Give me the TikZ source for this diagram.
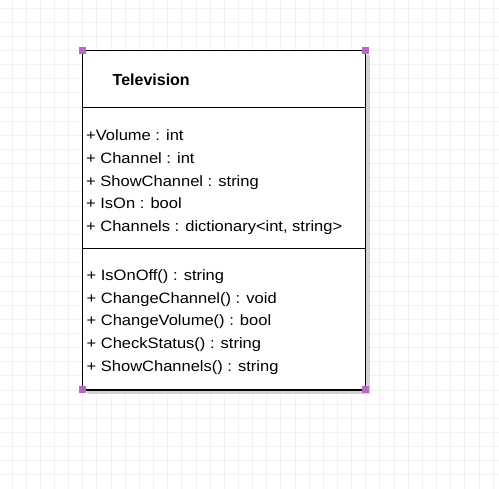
\documentclass[tikz,border=0pt]{standalone}
\usepackage{fontspec}
\setmainfont{Liberation Sans}
\definecolor{gridc}{RGB}{241,241,241}
\definecolor{handlec}{RGB}{182,104,196}
\definecolor{shadowc}{RGB}{210,210,210}
\tikzset{
  member/.style={anchor=base west, inner sep=0pt, font=\fontsize{15}{18}\selectfont},
  titletext/.style={anchor=base west, inner sep=0pt, font=\fontsize{16}{19}\selectfont\bfseries},
  handle/.style={fill=handlec, draw=none, minimum size=7pt, inner sep=0pt, rectangle},
  border/.style={draw=black, line width=1.2pt},
}
\newcommand{\wide}[1]{\scalebox{1.1}[1]{#1}}
\begin{document}
\begin{tikzpicture}[x=1pt,y=1pt]
\useasboundingbox (0,0) rectangle (499,-489);
\fill[white] (0,0) rectangle (499,-489);
% grid
\foreach \i in {0,...,34} {
  \draw[gridc, line width=0.9pt] ({12+14.15*\i},0) -- ({12+14.15*\i},-489);
  \draw[gridc, line width=0.9pt] (0,{-8-14.15*\i}) -- (499,{-8-14.15*\i});
}
% corners
\coordinate (tl) at (82.75,-50.45);
\coordinate (tr) at (365.75,-50.45);
\coordinate (bl) at (82.75,-390);
\coordinate (br) at (365.75,-390);
\coordinate (d1l) at (82.75,-107.5);
\coordinate (d1r) at (365.75,-107.5);
\coordinate (d2l) at (82.75,-248.3);
\coordinate (d2r) at (365.75,-248.3);
% shadow
\fill[shadowc] ([shift={(4.5,-4.5)}]tl) rectangle ([shift={(4.5,-4.5)}]br);
% box
\fill[white] (tl) rectangle (br);
\draw[border] (tl) rectangle (br);
\draw[border] (d1l) -- (d1r);
\draw[border] (d2l) -- (d2r);
% title
\node[titletext] (title) at (112.5,-85.5) {Television};
% attributes
\node[member] (a1) at (86,-141) {\wide{+Volume : int}};
\node[member] (a2) at (86,-163.6) {\wide{+ Channel : int}};
\node[member] (a3) at (86,-186.2) {\wide{+ ShowChannel : string}};
\node[member] (a4) at (86,-208.8) {\wide{+ IsOn : bool}};
\node[member] (a5) at (86,-231.4) {\wide{+ Channels : dictionary<int, string>}};
% methods
\node[member] (m1) at (86.5,-280.7) {\wide{+ IsOnOff() : string}};
\node[member] (m2) at (86.5,-303.3) {\wide{+ ChangeChannel() : void}};
\node[member] (m3) at (86.5,-325.9) {\wide{+ ChangeVolume() : bool}};
\node[member] (m4) at (86.5,-348.5) {\wide{+ CheckStatus() : string}};
\node[member] (m5) at (86.5,-371.1) {\wide{+ ShowChannels() : string}};
% handles
\node[handle] (h1) at (tl) {};
\node[handle] (h2) at (tr) {};
\node[handle] (h3) at (bl) {};
\node[handle] (h4) at (br) {};
\end{tikzpicture}
\end{document}
